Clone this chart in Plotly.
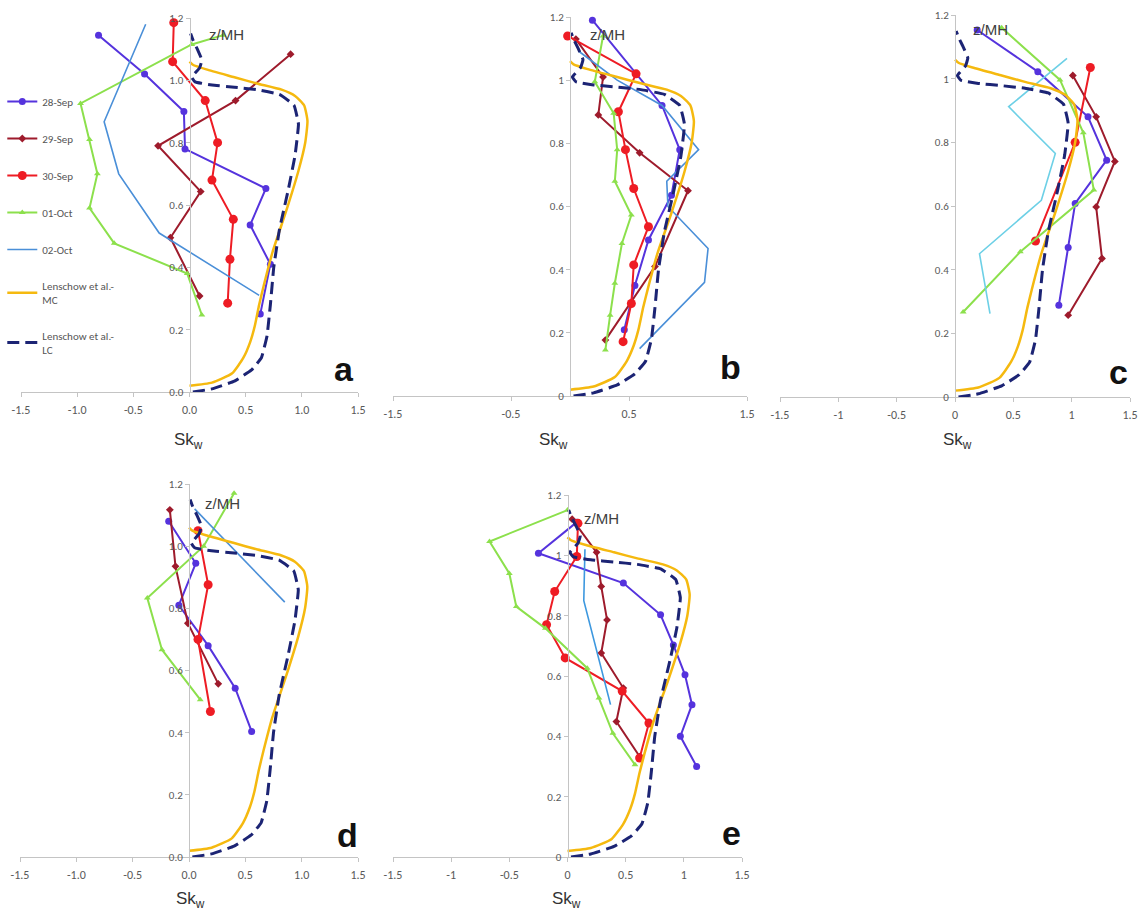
import plotly.graph_objects as go

W, H = 1145, 917

series_names = ["28-Sep", "29-Sep", "30-Sep", "01-Oct", "02-Oct"]

# ---------------- data (Sk_w, z/MH) ----------------
# panel a
a_skw = {
    "28-Sep": [-0.81, -0.40, -0.05, -0.04, 0.68, 0.54, 0.72, 0.63],
    "29-Sep": [0.90, 0.41, -0.28, 0.10, -0.17, 0.09],
    "30-Sep": [-0.14, -0.15, 0.14, 0.25, 0.20, 0.39, 0.36, 0.34],
    "01-Oct": [0.30, 0.02, -0.97, -0.89, -0.82, -0.89, -0.67, -0.02, 0.11],
    "02-Oct": [-0.39, -0.76, -0.63, -0.27, 0.62],
}
a_z = {
    "28-Sep": [1.145, 1.02, 0.90, 0.78, 0.653, 0.536, 0.41, 0.25],
    "29-Sep": [1.084, 0.935, 0.79, 0.643, 0.495, 0.308],
    "30-Sep": [1.185, 1.06, 0.935, 0.80, 0.68, 0.554, 0.426, 0.285],
    "01-Oct": [1.145, 1.115, 0.926, 0.81, 0.70, 0.59, 0.477, 0.38, 0.247],
    "02-Oct": [1.18, 0.867, 0.70, 0.51, 0.31],
}
# panel b
b_skw = {
    "28-Sep": [0.19, 0.78, 0.93, 0.86, 0.665, 0.55, 0.46],
    "29-Sep": [0.05, 0.28, 0.24, 0.59, 1.0, 0.72, 0.30],
    "30-Sep": [-0.02, 0.56, 0.41, 0.47, 0.54, 0.665, 0.54, 0.52, 0.45],
    "01-Oct": [0.28, 0.21, 0.37, 0.40, 0.38, 0.52, 0.44, 0.38, 0.34, 0.30],
    "02-Oct": [0.08, 0.40, 0.78, 1.09, 0.82, 0.83, 1.17, 1.14, 0.59],
}
b_z = {
    "28-Sep": [1.19, 0.92, 0.78, 0.636, 0.494, 0.35, 0.21],
    "29-Sep": [1.13, 1.01, 0.89, 0.77, 0.65, 0.41, 0.177],
    "30-Sep": [1.14, 1.02, 0.90, 0.78, 0.657, 0.536, 0.415, 0.293, 0.172],
    "01-Oct": [1.14, 0.995, 0.895, 0.78, 0.68, 0.573, 0.483, 0.357, 0.256, 0.146],
    "02-Oct": [1.09, 1.0, 0.92, 0.78, 0.68, 0.60, 0.467, 0.36, 0.15],
}
# panel c
c_skw = {
    "28-Sep": [0.19, 0.71, 1.14, 1.30, 1.03, 0.97, 0.89],
    "29-Sep": [1.01, 1.21, 1.37, 1.21, 1.26, 0.97],
    "30-Sep": [1.16, 1.03, 0.69],
    "01-Oct": [0.40, 0.90, 1.10, 1.19, 0.56, 0.07],
    "02-Oct": [0.96, 0.46, 0.86, 0.74, 0.21, 0.30],
}
c_z = {
    "28-Sep": [1.153, 1.022, 0.88, 0.744, 0.608, 0.47, 0.288],
    "29-Sep": [1.01, 0.88, 0.74, 0.597, 0.435, 0.257],
    "30-Sep": [1.035, 0.80, 0.49],
    "01-Oct": [1.16, 0.996, 0.83, 0.65, 0.456, 0.267],
    "02-Oct": [1.064, 0.912, 0.765, 0.618, 0.45, 0.262],
}
# panel d
d_skw = {
    "28-Sep": [-0.18, 0.06, -0.09, 0.17, 0.41, 0.556],
    "29-Sep": [-0.17, -0.12, -0.01, 0.26],
    "30-Sep": [0.08, 0.17, 0.08, 0.19],
    "01-Oct": [0.40, 0.13, -0.37, -0.24, 0.10],
    "02-Oct": [0.05, 0.85],
}
d_z = {
    "28-Sep": [1.08, 0.945, 0.81, 0.68, 0.543, 0.404],
    "29-Sep": [1.117, 0.935, 0.752, 0.557],
    "30-Sep": [1.05, 0.876, 0.70, 0.468],
    "01-Oct": [1.17, 1.0, 0.833, 0.667, 0.506],
    "02-Oct": [1.12, 0.82],
}
# panel e
e_skw = {
    "28-Sep": [0.08, -0.25, 0.48, 0.80, 0.91, 1.01, 1.07, 0.97, 1.11],
    "29-Sep": [0.04, 0.25, 0.29, 0.34, 0.29, 0.48, 0.42, 0.62],
    "30-Sep": [0.09, 0.08, -0.11, -0.18, -0.02, 0.47, 0.70, 0.62],
    "01-Oct": [0.0, -0.67, -0.50, -0.44, -0.19, 0.17, 0.27, 0.39, 0.58],
    "02-Oct": [0.15, 0.14, 0.37],
}
e_z = {
    "28-Sep": [1.11, 1.007, 0.908, 0.803, 0.703, 0.604, 0.505, 0.40, 0.30],
    "29-Sep": [1.12, 1.01, 0.897, 0.786, 0.676, 0.56, 0.449, 0.333],
    "30-Sep": [1.106, 0.996, 0.88, 0.77, 0.66, 0.55, 0.444, 0.328],
    "01-Oct": [1.15, 1.046, 0.94, 0.83, 0.758, 0.626, 0.527, 0.41, 0.306],
    "02-Oct": [1.02, 0.85, 0.505],
}

# Lenschow et al. reference profiles
mc_skw = [0.0, 0.2, 0.38, 0.48, 0.54, 0.58, 0.62, 0.66, 0.74, 0.86, 0.97, 1.03,
          1.05, 1.02, 0.94, 0.82, 0.6, 0.4, 0.15, 0.03, 0.0]
mc_z = [0.02, 0.03, 0.06, 0.11, 0.16, 0.21, 0.28, 0.34, 0.45, 0.58, 0.71, 0.80,
        0.87, 0.92, 0.95, 0.97, 0.99, 1.01, 1.035, 1.05, 1.06]
lc_skw = [0.03, 0.2, 0.4, 0.55, 0.64, 0.69, 0.72, 0.75, 0.8, 0.88, 0.94, 0.97,
          0.93, 0.8, 0.6, 0.4, 0.2, 0.05, 0.02, 0.09, 0.11, 0.07, 0.03, 0.01]
lc_z = [0.0, 0.01, 0.035, 0.07, 0.11, 0.18, 0.28, 0.40, 0.52, 0.65, 0.76, 0.86,
        0.92, 0.955, 0.97, 0.978, 0.985, 0.995, 1.01, 1.04, 1.065, 1.10, 1.13, 1.15]

# tick labels
x_ticks_1dec = ["-1.5", "-1.0", "-0.5", "0.0", "0.5", "1.0", "1.5"]
x_ticks_plain = ["-1.5", "-1", "-0.5", "0", "0.5", "1", "1.5"]
x_ticks_b = ["-1.5", "-0.5", "0.5", "1.5"]
x_tickvals = [-1.5, -1.0, -0.5, 0.0, 0.5, 1.0, 1.5]
x_tickvals_b = [-1.5, -0.5, 0.5, 1.5]
y_tickvals = [0.0, 0.2, 0.4, 0.6, 0.8, 1.0, 1.2]
y_ticks_1dec = ["0.0", "0.2", "0.4", "0.6", "0.8", "1.0", "1.2"]
y_ticks_plain = ["0", "0.2", "0.4", "0.6", "0.8", "1", "1.2"]

panel_letters = ["a", "b", "c", "d", "e"]

# ---------------- styles ----------------
styles = {
    "28-Sep": dict(color="#5533dd", symbol="circle", size=7, width=2),
    "29-Sep": dict(color="#9e1b2c", symbol="diamond", size=6, width=2),
    "30-Sep": dict(color="#ee1c24", symbol="circle", size=9, width=2),
    "01-Oct": dict(color="#8ce04c", symbol="triangle-up", size=6, width=2),
    "02-Oct": dict(color="#4a8fd8", symbol="circle", size=0, width=1.6),
}
MC_COLOR = "#f5b90f"
LC_COLOR = "#1c2474"
AXIS_COLOR = "#c4c4c4"
TICK_FONT_COLOR = "#595959"
TICK_FAMILY = "Carlito, Liberation Sans, Arial"

# panel geometry in pixels: x-axis left, x-axis right, y(0) pixel, y(1.2) pixel
panels = [
    dict(data=(a_skw, a_z), geom=(21, 358, 392, 18), xt=(x_tickvals, x_ticks_1dec),
         yt=y_ticks_1dec, sk=(188, 441), zmh=(226, 35), let=(344, 369), c02="#4a8fd8"),
    dict(data=(b_skw, b_z), geom=(393, 747, 396, 17), xt=(x_tickvals_b, x_ticks_b),
         yt=y_ticks_plain, sk=(553, 441), zmh=(607, 35), let=(730, 367), c02="#4a8fd8"),
    dict(data=(c_skw, c_z), geom=(780, 1130, 397, 15), xt=(x_tickvals, x_ticks_plain),
         yt=y_ticks_plain, sk=(957, 441), zmh=(990, 29), let=(1118, 372), c02="#6dd0e6"),
    dict(data=(d_skw, d_z), geom=(20, 358, 857, 484), xt=(x_tickvals, x_ticks_1dec),
         yt=y_ticks_1dec, sk=(190, 900), zmh=(222, 503), let=(347, 835), c02="#4a8fd8"),
    dict(data=(e_skw, e_z), geom=(393, 742, 857, 495), xt=(x_tickvals, x_ticks_plain),
         yt=y_ticks_plain, sk=(566, 900), zmh=(601, 518), let=(731, 833), c02="#3d98df"),
]

fig = go.Figure()
annotations = []

for i, p in enumerate(panels):
    k = "" if i == 0 else str(i + 1)
    xa, ya = "x" + k, "y" + k
    skw, z = p["data"]
    first = i == 0
    for name in series_names:
        st = styles[name]
        col = p["c02"] if name == "02-Oct" else st["color"]
        mode = "lines" if st["size"] == 0 else "lines+markers"
        fig.add_trace(go.Scatter(
            x=skw[name], y=z[name], mode=mode, name=name,
            line=dict(color=col, width=st["width"]),
            marker=dict(symbol=st["symbol"], size=st["size"], color=col),
            xaxis=xa, yaxis=ya, showlegend=first, legendgroup=name,
            cliponaxis=False))
    fig.add_trace(go.Scatter(
        x=mc_skw, y=mc_z, mode="lines", name="Lenschow et al.-<br>MC",
        line=dict(color=MC_COLOR, width=2.5, shape="spline", smoothing=0.5),
        xaxis=xa, yaxis=ya, showlegend=first, legendgroup="MC"))
    fig.add_trace(go.Scatter(
        x=lc_skw, y=lc_z, mode="lines", name="Lenschow et al.-<br>LC",
        line=dict(color=LC_COLOR, width=3, dash="12px,6px", shape="spline",
                  smoothing=0.3),
        xaxis=xa, yaxis=ya, showlegend=first, legendgroup="LC"))

    xl, xr, yb, yt_ = p["geom"]
    xdom = [xl / W, xr / W]
    ydom = [1 - yb / H, 1 - yt_ / H]
    zero_px = xl + (xr - xl) * 0.5
    tv, tt = p["xt"]
    fig.layout["xaxis" + k] = dict(
        domain=xdom, range=[-1.5, 1.5], anchor=ya, showline=True, linecolor=AXIS_COLOR,
        linewidth=1, ticks="outside", ticklen=4, tickcolor=AXIS_COLOR,
        tickvals=tv, ticktext=tt, showgrid=False, zeroline=False, automargin=False,
        tickfont=dict(family=TICK_FAMILY, size=12, color=TICK_FONT_COLOR),
        ticklabelstandoff=3)
    fig.layout["yaxis" + k] = dict(
        domain=ydom, range=[0, 1.2], anchor="free", position=zero_px / W,
        showline=True, linecolor=AXIS_COLOR, linewidth=1, ticks="outside", ticklen=4,
        tickcolor=AXIS_COLOR, tickvals=y_tickvals, ticktext=p["yt"], showgrid=False,
        zeroline=False, automargin=False,
        tickfont=dict(family=TICK_FAMILY, size=11, color=TICK_FONT_COLOR))

    annotations.append(dict(
        text="Sk<sub>w</sub>", x=p["sk"][0] / W, y=1 - p["sk"][1] / H, xref="paper",
        yref="paper", showarrow=False, xanchor="center", yanchor="middle",
        font=dict(family="Liberation Sans, Arial", size=17, color="#333333")))
    annotations.append(dict(
        text="z/MH", x=p["zmh"][0] / W, y=1 - p["zmh"][1] / H, xref="paper",
        yref="paper", showarrow=False, xanchor="center", yanchor="middle",
        font=dict(family="Liberation Sans, Arial", size=15, color="#404040")))
    annotations.append(dict(
        text="<b>" + panel_letters[i] + "</b>", x=p["let"][0] / W, y=1 - p["let"][1] / H,
        xref="paper", yref="paper", showarrow=False, xanchor="center", yanchor="middle",
        font=dict(family="Liberation Sans, Arial", size=34, color="#111111")))

fig.update_layout(
    width=W, height=H, autosize=False,
    margin=dict(l=0, r=0, t=0, b=0, pad=0, autoexpand=False),
    paper_bgcolor="white", plot_bgcolor="white",
    annotations=annotations,
    showlegend=True,
    legend=dict(x=0.002, y=1 - 87 / H, xanchor="left", yanchor="top",
                bgcolor="rgba(0,0,0,0)", itemwidth=30, tracegroupgap=18,
                font=dict(family=TICK_FAMILY, size=11, color="#555555")),
)

fig.write_html(
    "out.html",
    config={"displayModeBar": False},
    post_script="document.body.style.margin='0';document.body.style.padding='0';",
)
